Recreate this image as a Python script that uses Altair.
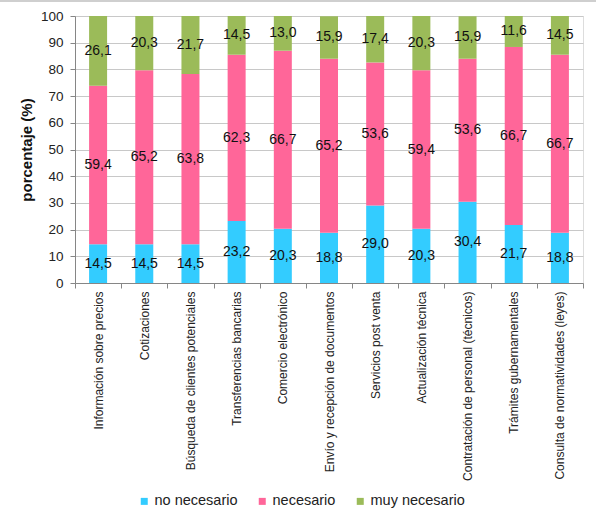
import altair as alt
import pandas as pd

categories = [
    "Información sobre precios",
    "Cotizaciones",
    "Búsqueda de clientes potenciales",
    "Transferencias bancarias",
    "Comercio electrónico",
    "Envío y recepción de documentos",
    "Servicios post venta",
    "Actualización técnica",
    "Contratación de personal (técnicos)",
    "Trámites gubernamentales",
    "Consulta de normatividades (leyes)",
]
no_necesario = [14.5, 14.5, 14.5, 23.2, 20.3, 18.8, 29.0, 20.3, 30.4, 21.7, 18.8]
necesario = [59.4, 65.2, 63.8, 62.3, 66.7, 65.2, 53.6, 59.4, 53.6, 66.7, 66.7]
muy_necesario = [26.1, 20.3, 21.7, 14.5, 13.0, 15.9, 17.4, 20.3, 15.9, 11.6, 14.5]
series = ["no necesario", "necesario", "muy necesario"]
colors = ["#33CCFF", "#FF6699", "#9BBB59"]
y_ticks = [0, 10, 20, 30, 40, 50, 60, 70, 80, 90, 100]

rows = []
for i, c in enumerate(categories):
    for k, (s, vals) in enumerate(zip(series, [no_necesario, necesario, muy_necesario])):
        v = vals[i]
        rows.append({"cat": c, "serie": s, "ord": k, "val": v,
                     "lab": f"{v:.1f}".replace(".", ",")})
df = pd.DataFrame(rows)

FONT = "Liberation Sans"

yaxis = alt.Axis(values=y_ticks, labelFontSize=13.5, labelFont=FONT,
                 labelColor="#222222", labelPadding=7, tickSize=5, labelOverlap=False,
                 tickColor="#868686", domainColor="#868686",
                 gridColor="#C8C8C8", titleFontSize=15, titleFont=FONT,
                 titleFontWeight="bold", titleColor="#111111", titleX=-41)
yscale = alt.Scale(domain=[0, 100], nice=False)

base = alt.Chart(df).encode(
    x=alt.X("cat:N", sort=categories, title=None,
            scale=alt.Scale(paddingInner=0, paddingOuter=0),
            axis=alt.Axis(labelAngle=-90, labelFontSize=12, labelFont=FONT,
                          labelColor="#222222", labelPadding=3, tickBand="extent",
                          tickSize=5, tickColor="#868686", domainColor="#868686",
                          labelLimit=300, grid=False)),
)

bars = base.mark_bar(size=18).encode(
    y=alt.Y("val:Q", stack="zero", title="porcentaje (%)", scale=yscale, axis=yaxis),
    color=alt.Color("serie:N", sort=series,
                    scale=alt.Scale(domain=series, range=colors),
                    legend=alt.Legend(title=None, orient="none", direction="horizontal",
                                      legendX=62, legendY=478, symbolType="square",
                                      symbolSize=49, symbolStrokeWidth=0, labelFontSize=14.5,
                                      labelFont=FONT, labelColor="#222222",
                                      columnPadding=17, labelOffset=3)),
    order=alt.Order("ord:Q"),
)

texts = base.transform_stack(
    stack="val", groupby=["cat"], as_=["y0", "y1"], sort=[alt.SortField("ord")]
).transform_calculate(
    mid="(datum.y0 + datum.y1) / 2"
).mark_text(fontSize=14, font=FONT, color="#111111").encode(
    y=alt.Y("mid:Q", title="porcentaje (%)", scale=yscale, axis=yaxis),
    text="lab:N",
)

border = alt.Chart(pd.DataFrame({"a": [0]})).mark_rule(color="#BFBFBF", strokeWidth=1.5).encode(
    x=alt.value(-75), x2=alt.value(521), y=alt.value(-15)
)

chart = alt.layer(bars, texts, border).properties(
    width=508, height=267,
    autosize=alt.AutoSizeParams(type="none"),
    padding={"left": 75, "top": 16, "right": 13, "bottom": 238},
).configure_view(stroke=None).configure(background="white")

chart.save("out.html", embed_options={"renderer": "svg", "actions": False})
